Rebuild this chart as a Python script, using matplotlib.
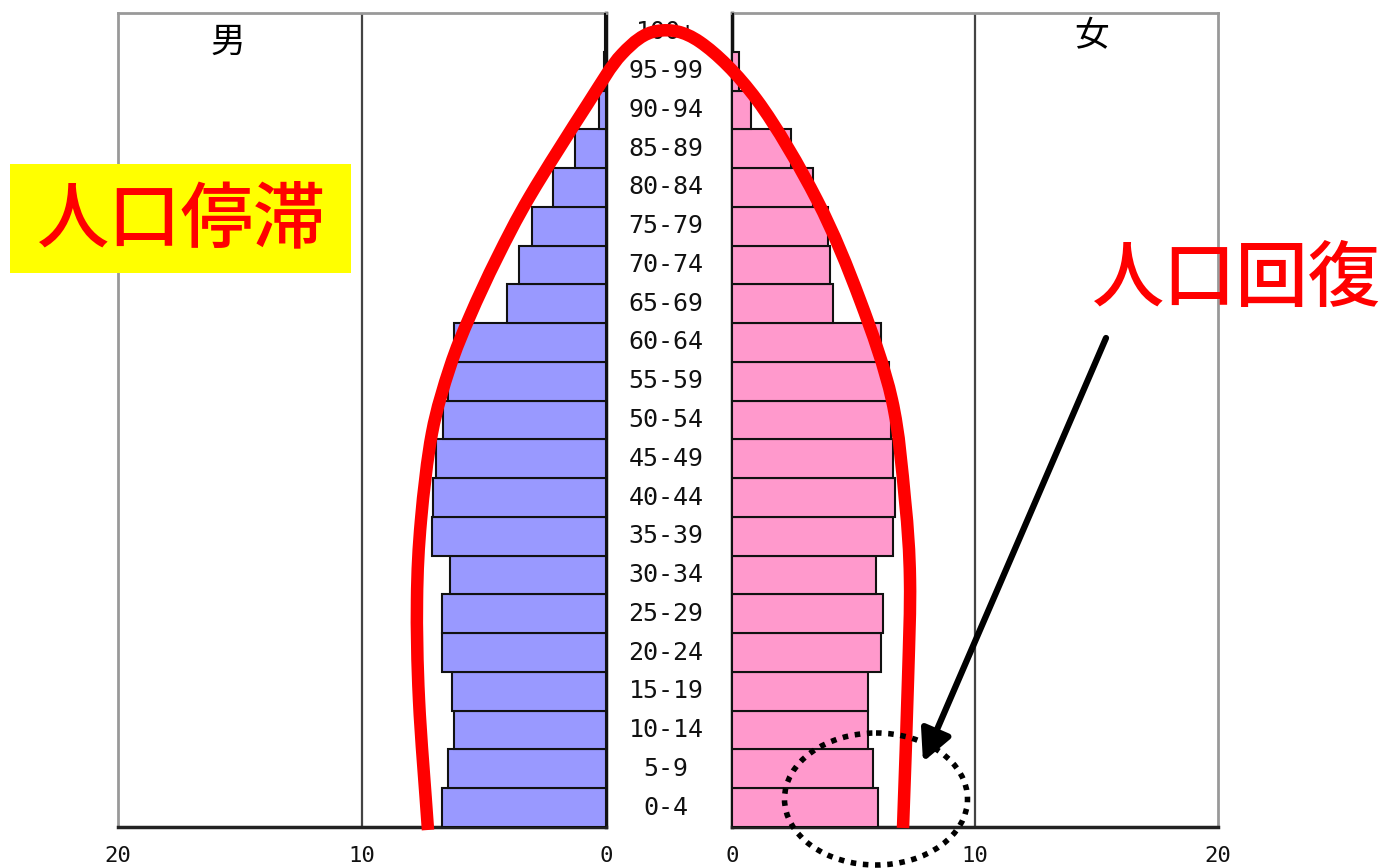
import matplotlib
matplotlib.use("Agg")
import matplotlib.pyplot as plt
from matplotlib.path import Path
from matplotlib.patches import PathPatch, Ellipse, FancyArrowPatch, Rectangle
from matplotlib.transforms import blended_transform_factory
import numpy as np

ages = ["0-4", "5-9", "10-14", "15-19", "20-24", "25-29", "30-34", "35-39",
        "40-44", "45-49", "50-54", "55-59", "60-64", "65-69", "70-74",
        "75-79", "80-84", "85-89", "90-94", "95-99", "100+"]
male = [6.72, 6.48, 6.23, 6.31, 6.72, 6.72, 6.39, 7.13, 7.09, 6.97, 6.68,
        6.48, 6.23, 4.06, 3.57, 3.03, 2.17, 1.27, 0.30, 0.10, 0.05]
female = [6.00, 5.80, 5.60, 5.60, 6.13, 6.21, 5.93, 6.62, 6.71, 6.62, 6.54,
          6.46, 6.13, 4.16, 4.03, 3.95, 3.33, 2.43, 0.78, 0.28, 0.05]
xticks = [0, 10, 20]
male_label = "男"
female_label = "女"
note_left = "人口停滞"
note_right = "人口回復"

W, H = 1383, 868
fig = plt.figure(figsize=(W / 100, H / 100), dpi=100)
fig.patch.set_facecolor("white")

bottom = (H - 827) / H
height = (827 - 13) / H
axL = fig.add_axes([118 / W, bottom, (606 - 118) / W, height])
axR = fig.add_axes([732 / W, bottom, (1218 - 732) / W, height])

y = np.arange(len(ages))
axL.barh(y, male, height=1.0, color="#9999FF", edgecolor="#111111", linewidth=1.5, zorder=3)
axR.barh(y, female, height=1.0, color="#FF99CC", edgecolor="#111111", linewidth=1.5, zorder=3)

for ax, inv in ((axL, True), (axR, False)):
    ax.set_ylim(-0.5, len(ages) - 0.5)
    ax.set_xlim((20, 0) if inv else (0, 20))
    ax.set_yticks([])
    ax.set_xticks(xticks)
    ax.set_xticklabels([str(t) for t in xticks], family="DejaVu Sans Mono", fontsize=16)
    ax.tick_params(axis="x", length=0, pad=14, colors="#111111")
    ax.axvline(10, color="#444444", linewidth=1.6, zorder=1)
    for s in ("top", "left", "right"):
        ax.spines[s].set_color("#999999")
        ax.spines[s].set_linewidth(2)
    ax.spines["bottom"].set_color("#222222")
    ax.spines["bottom"].set_linewidth(2.5)

axL.spines["right"].set_color("#111111")
axL.spines["right"].set_linewidth(2.5)
axR.spines["left"].set_color("#111111")
axR.spines["left"].set_linewidth(2.5)

axL.text(0.225, 0.985, male_label, transform=axL.transAxes, ha="center", va="top",
         fontsize=25, family="Noto Sans CJK JP", color="black")
axR.text(0.74, 0.993, female_label, transform=axR.transAxes, ha="center", va="top",
         fontsize=25, family="Noto Sans CJK JP", color="black")

tr = blended_transform_factory(fig.transFigure, axL.transData)
for i, a in enumerate(ages):
    fig.text(666 / W, i, a, transform=tr, ha="center", va="center",
             fontsize=18, family="DejaVu Sans Mono", color="#111111")

# annotation overlay in pixel coordinates
ov = fig.add_axes([0, 0, 1, 1], zorder=10)
ov.set_xlim(0, W)
ov.set_ylim(H, 0)
ov.axis("off")
ov.patch.set_alpha(0)

pts = np.array([(428, 830), (419, 700), (417, 600), (421, 520), (432, 433),
                (450, 367), (470, 316), (497, 258), (530, 196), (587, 105),
                (622, 54), (657, 31), (700, 42), (757, 100), (817, 200),
                (860, 300), (892, 400), (905, 500), (910, 580), (908, 680),
                (903, 828)], dtype=float)
ext = np.vstack([pts[0] - (pts[1] - pts[0]), pts, pts[-1] + (pts[-1] - pts[-2])])
verts = [tuple(pts[0])]
codes = [Path.MOVETO]
for i in range(1, len(ext) - 2):
    p0, p1, p2, p3 = ext[i - 1], ext[i], ext[i + 1], ext[i + 2]
    c1 = p1 + (p2 - p0) / 6
    c2 = p2 - (p3 - p1) / 6
    verts += [tuple(c1), tuple(c2), tuple(p2)]
    codes += [Path.CURVE4] * 3
ov.add_patch(PathPatch(Path(verts, codes), facecolor="none", edgecolor="#FF0000",
                       linewidth=9, capstyle="butt"))

ov.add_patch(Ellipse((876, 799), 183, 132, facecolor="none", edgecolor="black",
                     linewidth=4, linestyle=(0, (1, 1.2))))

ov.add_patch(FancyArrowPatch((1106, 338), (923, 762),
                             arrowstyle="-|>,head_length=1.0,head_width=0.5",
                             color="black", linewidth=4.5, mutation_scale=19,
                             shrinkA=0, shrinkB=0))

ov.add_patch(Rectangle((10, 164), 341, 109, facecolor="#FFFF00", edgecolor="none"))
ov.text(181, 220, note_left, ha="center", va="center", fontsize=52,
        family="Noto Sans CJK JP", weight="medium", color="#FF0000")
ov.text(1236, 280, note_right, ha="center", va="center", fontsize=52,
        family="Noto Sans CJK JP", weight="medium", color="#FF0000")

fig.savefig("out.png", dpi=100)
